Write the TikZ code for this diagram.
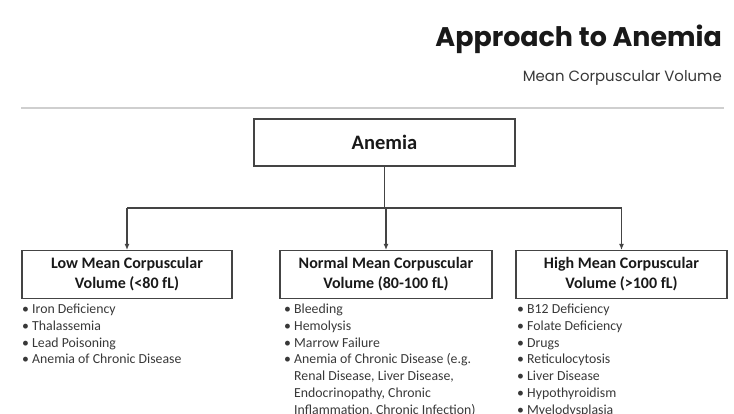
\documentclass[tikz,border=0pt]{standalone}
\usepackage{fontspec}
\setmainfont{Carlito}
\newfontfamily\titlefont{Poppins}
\usepackage{xcolor}
\usepackage{tikz}
\usetikzlibrary{arrows.meta}

\definecolor{inkgray}{HTML}{383838}
\definecolor{linegray}{HTML}{444444}
\definecolor{rulegray}{HTML}{CFCFCF}

\tikzset{
  mcvbox/.style={draw=linegray, line width=1.1pt, fill=white, align=center,
    font=\fontsize{16}{20}\selectfont\bfseries, text=black!90, inner sep=0pt},
  causelist/.style={anchor=north west, align=left, inner sep=0pt, text=inkgray,
    font=\fontsize{13.8}{16.9}\selectfont},
  branch/.style={draw=linegray, line width=1.1pt},
}

\begin{document}
\begin{tikzpicture}[x=1pt,y=-1pt]
\useasboundingbox (0,0) rectangle (734,414);
\clip (0,0) rectangle (734,414);

% Title and subtitle
\node[anchor=base east, inner sep=0pt, text=black!90,
  font=\titlefont\fontsize{26.9}{30}\selectfont\bfseries] (title) at (722,47) {Approach to Anemia};
\node[anchor=base east, inner sep=0pt, text=inkgray,
  font=\titlefont\fontsize{14.9}{16}\selectfont] (subtitle) at (722,81.5) {Mean Corpuscular Volume};

% Separator line
\coordinate (ruleL) at (21,108);
\coordinate (ruleR) at (724,108);
\draw[rulegray, line width=1.3pt] (ruleL) -- (ruleR);

% Top box
\node[mcvbox, minimum width=261pt, minimum height=47pt,
  font=\fontsize{20.5}{24}\selectfont\bfseries] (anemia) at (384.5,142.5) {Anemia};

% The three MCV boxes
\node[mcvbox, minimum width=210pt, minimum height=48pt] (low) at (127,274.5)
  {Low Mean Corpuscular\\Volume (<80 fL)};
\node[mcvbox, minimum width=212pt, minimum height=48pt] (normal) at (386,274.5)
  {Normal Mean Corpuscular\\Volume (80-100 fL)};
\node[mcvbox, minimum width=211pt, minimum height=48pt] (high) at (621.5,274.5)
  {High Mean Corpuscular\\Volume (>100 fL)};

% Connectors
\coordinate (split) at (384.5,208);
\draw[branch] (anemia.south) -- (split);
\draw[branch] (split -| low.north) -- (split -| high.north);
\draw[branch, -{Latex[length=6pt,width=5pt]}] (split -| low.north) -- (low.north);
\draw[branch, -{Latex[length=6pt,width=5pt]}] (split -| normal.north) -- (normal.north);
\draw[branch, -{Latex[length=6pt,width=5pt]}] (split -| high.north) -- (high.north);

% Causes under each box
\node[causelist] (lowlist) at (22,303.5) {%
\textbullet\ Iron Deficiency\\
\textbullet\ Thalassemia\\
\textbullet\ Lead Poisoning\\
\textbullet\ Anemia of Chronic Disease};

\node[causelist] (normallist) at (284,303.5) {%
\textbullet\ Bleeding\\
\textbullet\ Hemolysis\\
\textbullet\ Marrow Failure\\
\textbullet\ Anemia of Chronic Disease (e.g.\\
\hphantom{\textbullet\ }Renal Disease, Liver Disease,\\
\hphantom{\textbullet\ }Endocrinopathy, Chronic\\
\hphantom{\textbullet\ }Inflammation, Chronic Infection)};

\node[causelist] (highlist) at (517,303.5) {%
\textbullet\ B12 Deficiency\\
\textbullet\ Folate Deficiency\\
\textbullet\ Drugs\\
\textbullet\ Reticulocytosis\\
\textbullet\ Liver Disease\\
\textbullet\ Hypothyroidism\\
\textbullet\ Myelodysplasia};
\end{tikzpicture}
\end{document}
